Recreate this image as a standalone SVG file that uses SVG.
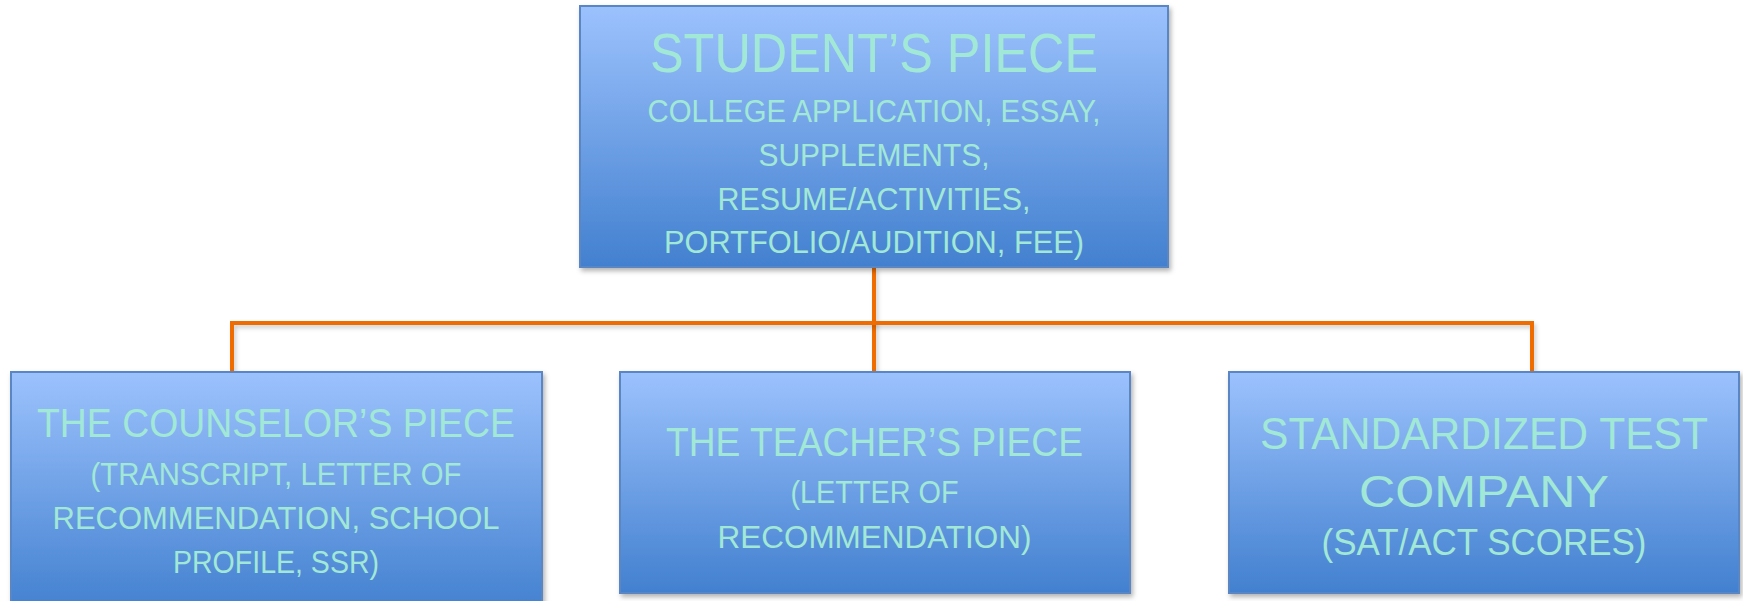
<svg xmlns="http://www.w3.org/2000/svg" width="1743" height="601" viewBox="0 0 1743 601">
<style>
.box{fill:url(#g);stroke:#5a86c4;stroke-width:2;filter:url(#sh)}
.t{font-family:"Liberation Sans",Arial,sans-serif;fill:#a2e8d6;text-anchor:middle}
.conn{fill:none;stroke:#ee6c00;stroke-width:4;filter:url(#sh2)}
</style>
<defs>
<linearGradient id="g" x1="0" y1="0" x2="0" y2="1">
<stop offset="0" stop-color="#9cc2fd"/>
<stop offset="1" stop-color="#4280cf"/>
</linearGradient>
<filter id="sh" x="-5%" y="-5%" width="110%" height="115%">
<feDropShadow dx="2" dy="3" stdDeviation="2.5" flood-color="#000" flood-opacity="0.3"/>
</filter>
<filter id="sh2" filterUnits="userSpaceOnUse" x="0" y="0" width="1743" height="601">
<feDropShadow dx="2" dy="3" stdDeviation="2" flood-color="#000" flood-opacity="0.2"/>
</filter>
</defs>
<rect width="1743" height="601" fill="#fff"/>
<g id="connectors">
<path class="conn" d="M874,267 V372"/>
<path class="conn" d="M232,372 V323 H1532 V372"/>
</g>
<g id="student">
<rect class="box" x="580" y="6" width="588" height="261"/>
<text class="t" x="874" y="72" font-size="56" textLength="448" lengthAdjust="spacingAndGlyphs">STUDENT’S PIECE</text>
<text class="t" x="874" y="122" font-size="31" textLength="453" lengthAdjust="spacingAndGlyphs">COLLEGE APPLICATION, ESSAY,</text>
<text class="t" x="874" y="166" font-size="31" textLength="231" lengthAdjust="spacingAndGlyphs">SUPPLEMENTS,</text>
<text class="t" x="874" y="210" font-size="31" textLength="313" lengthAdjust="spacingAndGlyphs">RESUME/ACTIVITIES,</text>
<text class="t" x="874" y="253" font-size="31" textLength="420" lengthAdjust="spacingAndGlyphs">PORTFOLIO/AUDITION, FEE)</text>
</g>
<g id="counselor">
<rect class="box" x="11" y="372" width="531" height="240"/>
<text class="t" x="276" y="437" font-size="40" textLength="478" lengthAdjust="spacingAndGlyphs">THE COUNSELOR’S PIECE</text>
<text class="t" x="276" y="485" font-size="31" textLength="371" lengthAdjust="spacingAndGlyphs">(TRANSCRIPT, LETTER OF</text>
<text class="t" x="276" y="529" font-size="31" textLength="447" lengthAdjust="spacingAndGlyphs">RECOMMENDATION, SCHOOL</text>
<text class="t" x="276" y="573" font-size="31" textLength="206" lengthAdjust="spacingAndGlyphs">PROFILE, SSR)</text>
</g>
<g id="teacher">
<rect class="box" x="620" y="372" width="510" height="221"/>
<text class="t" x="874.5" y="456" font-size="40" textLength="417" lengthAdjust="spacingAndGlyphs">THE TEACHER’S PIECE</text>
<text class="t" x="874.5" y="503" font-size="31" textLength="168" lengthAdjust="spacingAndGlyphs">(LETTER OF</text>
<text class="t" x="874.5" y="548" font-size="31" textLength="314" lengthAdjust="spacingAndGlyphs">RECOMMENDATION)</text>
</g>
<g id="testco">
<rect class="box" x="1229" y="372" width="510" height="221"/>
<text class="t" x="1484" y="449" font-size="45" textLength="448" lengthAdjust="spacingAndGlyphs">STANDARDIZED TEST</text>
<text class="t" x="1484" y="507" font-size="45" textLength="250" lengthAdjust="spacingAndGlyphs">COMPANY</text>
<text class="t" x="1484" y="555" font-size="36" textLength="325" lengthAdjust="spacingAndGlyphs">(SAT/ACT SCORES)</text>
</g>
</svg>
